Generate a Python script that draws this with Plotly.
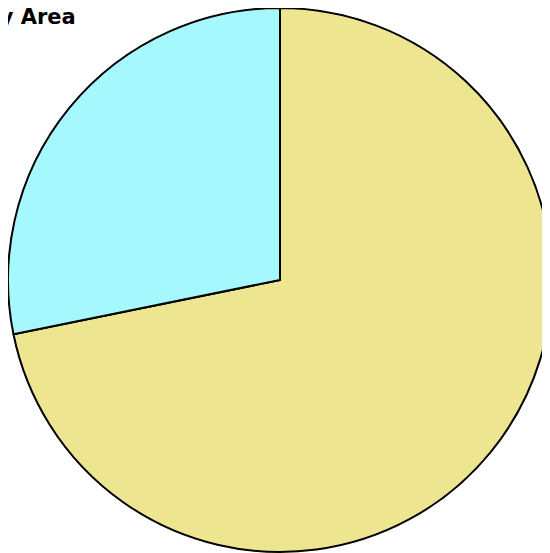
import plotly.graph_objects as go

labels = ["Area A", "Area B"]
values = [71.8, 28.2]
colors = ["#EEE591", "#A6F8FF"]

fig = go.Figure(go.Pie(
    labels=labels,
    values=values,
    sort=False,
    direction="counterclockwise",
    rotation=0,
    marker=dict(colors=colors, line=dict(color="black", width=2)),
    textinfo="none",
    hoverinfo="label+percent",
    showlegend=False,
))

fig.update_layout(
    width=550, height=553,
    margin=dict(l=0, r=6, t=0, b=9),
    paper_bgcolor="white",
    plot_bgcolor="white",
    annotations=[dict(
        text="<b>Distribution by Area</b>",
        xref="paper", yref="paper",
        x=70 / 544, y=1 - 8.8 / 544,
        xanchor="right", yanchor="middle",
        showarrow=False,
        font=dict(family="DejaVu Sans", size=21, color="black"),
    )],
)

fig.write_html("out.html")
